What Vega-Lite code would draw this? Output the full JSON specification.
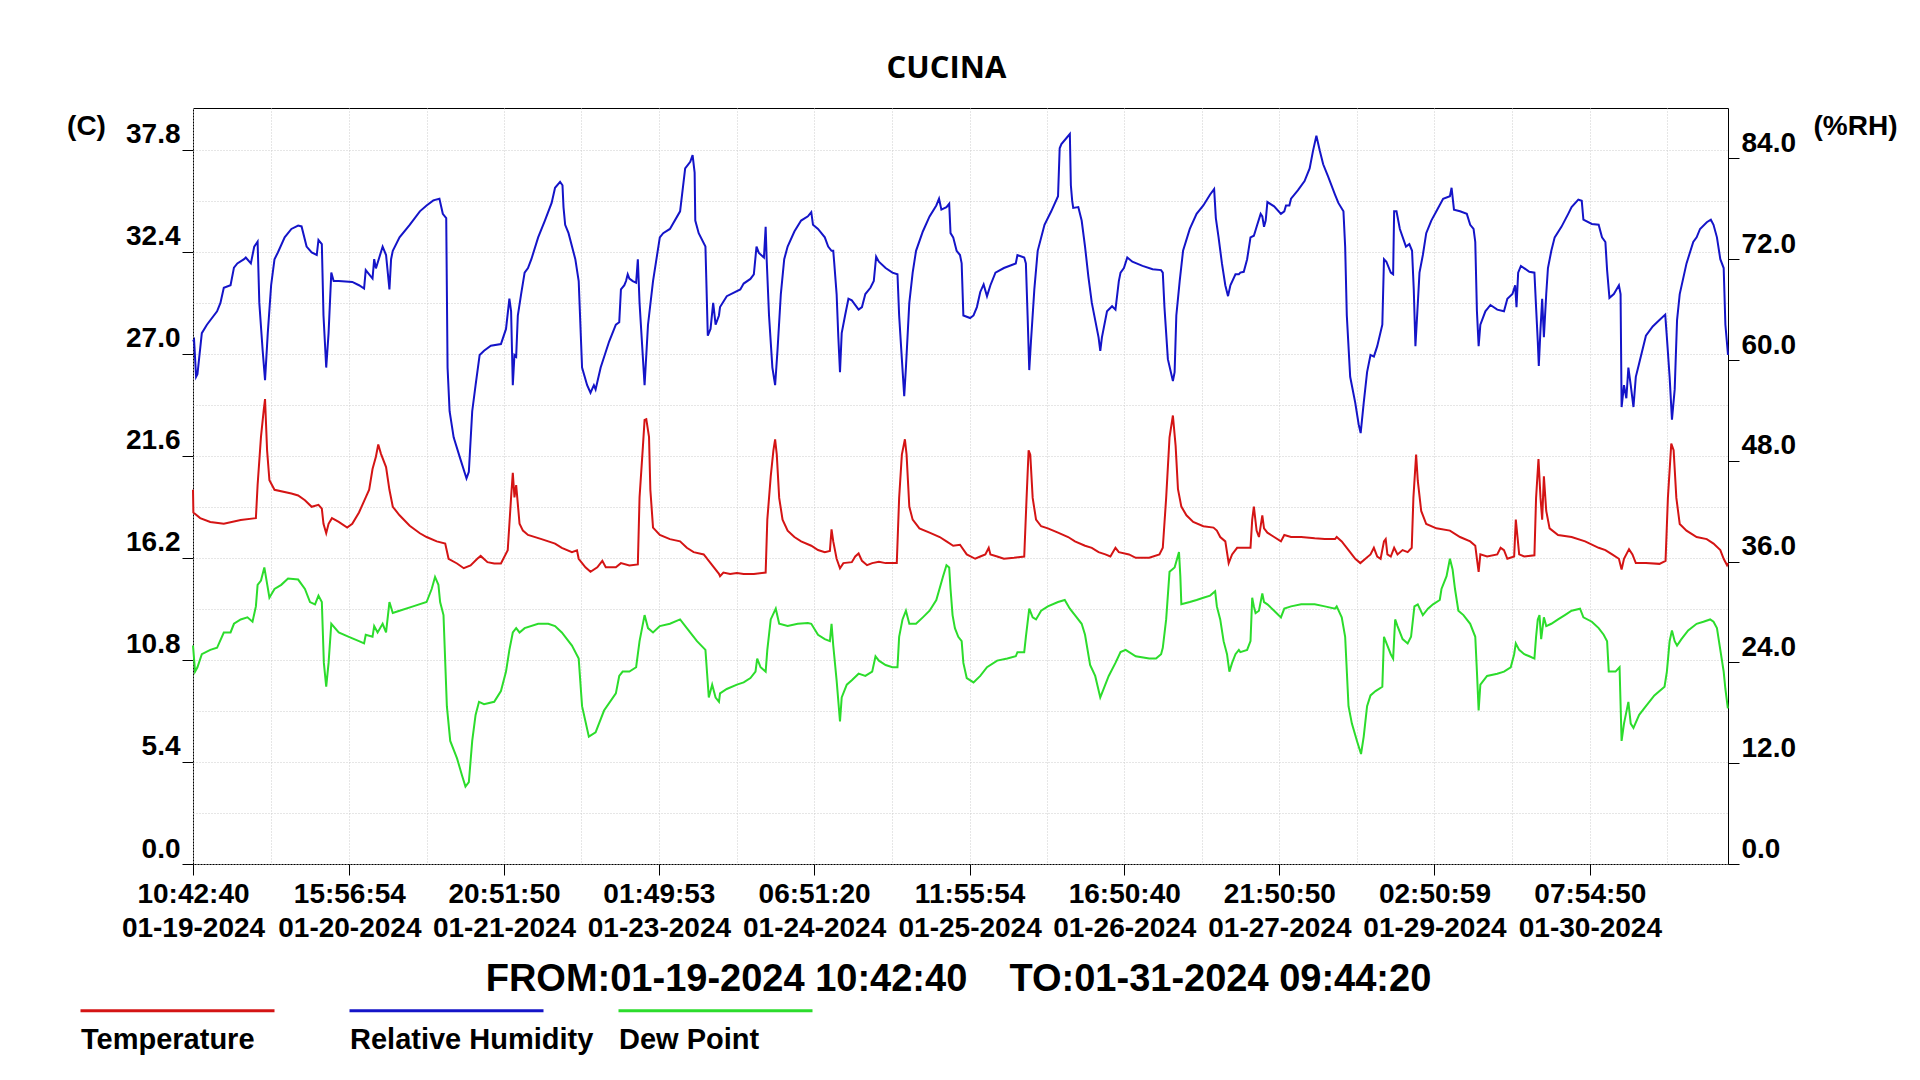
{
  "$schema": "https://vega.github.io/schema/vega-lite/v6.json",
  "width": 1535,
  "height": 756,
  "autosize": {"type": "none"},
  "padding": {"left": 193, "top": 108, "right": 192, "bottom": 216},
  "background": "white",
  "config": {
    "view": {"stroke": "black", "strokeWidth": 1},
    "axis": {
      "labelFont": "Liberation Sans", "labelFontSize": 28, "labelFontWeight": "bold", "labelColor": "#000",
      "titleFont": "Liberation Sans", "titleFontSize": 28, "titleFontWeight": "bold", "titleColor": "#000",
      "tickColor": "#000", "tickSize": 11, "tickWidth": 1, "domain": false, "grid": false,
      "gridColor": "#cdcdcd", "gridDash": [1, 2], "gridWidth": 1, "labelFlush": false, "labelOverlap": false
    }
  },
  "title": {
    "text": "CUCINA", "font": "Open Sans", "fontSize": 31, "fontWeight": "bold", "color": "#000",
    "anchor": "middle", "frame": "group", "dx": -14, "offset": -1, "baseline": "alphabetic"
  },
  "datasets": {
    "temp": [
      {"h":0,"v":19.8},{"h":0.07,"v":18.6},{"h":1.34,"v":18.3},{"h":3.23,"v":18.1},{"h":5.76,"v":18.0},{"h":8.92,"v":18.2},{"h":11.76,"v":18.3},{"h":12.08,"v":20.05},{"h":12.71,"v":22.6},{"h":13.22,"v":24.0},{"h":13.47,"v":24.6},{"h":13.85,"v":21.9},{"h":14.29,"v":20.3},{"h":15.24,"v":19.8},{"h":18.4,"v":19.6},{"h":19.66,"v":19.5},{"h":20.93,"v":19.25},{"h":22.19,"v":18.9},{"h":23.46,"v":19.0},{"h":24.09,"v":18.8},{"h":24.4,"v":18.0},{"h":24.91,"v":17.5},{"h":25.35,"v":18.0},{"h":25.98,"v":18.3},{"h":27.25,"v":18.1},{"h":28.83,"v":17.8},{"h":29.78,"v":18.0},{"h":31.04,"v":18.6},{"h":32.3,"v":19.4},{"h":32.94,"v":19.8},{"h":33.57,"v":20.9},{"h":34.2,"v":21.55},{"h":34.64,"v":22.2},{"h":35.15,"v":21.7},{"h":36.1,"v":21.0},{"h":36.73,"v":19.8},{"h":37.36,"v":18.9},{"h":38.62,"v":18.45},{"h":40.52,"v":17.9},{"h":42.42,"v":17.5},{"h":43.68,"v":17.3},{"h":45.58,"v":17.07},{"h":47.16,"v":16.95},{"h":47.79,"v":16.15},{"h":49.37,"v":15.9},{"h":50.63,"v":15.65},{"h":51.9,"v":15.8},{"h":53.16,"v":16.15},{"h":53.79,"v":16.3},{"h":55.06,"v":15.97},{"h":56.32,"v":15.9},{"h":57.58,"v":15.9},{"h":58.85,"v":16.6},{"h":59.48,"v":19.4},{"h":59.8,"v":20.7},{"h":60.11,"v":19.4},{"h":60.43,"v":20.05},{"h":61.06,"v":18.0},{"h":61.69,"v":17.64},{"h":62.64,"v":17.41},{"h":65.17,"v":17.19},{"h":67.7,"v":16.95},{"h":68.96,"v":16.73},{"h":70.86,"v":16.5},{"h":71.8,"v":16.6},{"h":72.12,"v":16.15},{"h":73.38,"v":15.7},{"h":74.33,"v":15.46},{"h":75.6,"v":15.7},{"h":76.54,"v":16.04},{"h":77.18,"v":15.7},{"h":79.07,"v":15.7},{"h":80.02,"v":15.92},{"h":81.6,"v":15.8},{"h":83.18,"v":15.85},{"h":83.5,"v":19.4},{"h":84.13,"v":22.1},{"h":84.44,"v":23.5},{"h":84.76,"v":23.54},{"h":85.27,"v":22.6},{"h":85.52,"v":19.8},{"h":86.02,"v":17.8},{"h":87.29,"v":17.41},{"h":89.18,"v":17.19},{"h":91.08,"v":17.07},{"h":92.34,"v":16.73},{"h":93.61,"v":16.5},{"h":95.5,"v":16.38},{"h":96.45,"v":16.04},{"h":98.35,"v":15.35},
      {"h":98.55,"v":15.23},{"h":99.18,"v":15.42},{"h":100.44,"v":15.35},{"h":101.71,"v":15.39},{"h":102.97,"v":15.35},{"h":104.87,"v":15.35},{"h":107.08,"v":15.42},{"h":107.39,"v":18.22},{"h":108.03,"v":20.51},{"h":108.53,"v":21.89},{"h":108.85,"v":22.47},{"h":109.16,"v":21.66},{"h":109.61,"v":19.37},{"h":110.24,"v":18.22},{"h":111.19,"v":17.64},{"h":112.45,"v":17.3},{"h":113.71,"v":17.07},{"h":115.61,"v":16.84},{"h":116.87,"v":16.61},{"h":118.14,"v":16.5},{"h":119.09,"v":16.56},{"h":119.4,"v":17.71},{"h":119.72,"v":17.07},{"h":120.35,"v":16.15},{"h":120.98,"v":15.65},{"h":121.61,"v":15.92},{"h":123.19,"v":15.97},{"h":123.83,"v":16.27},{"h":124.46,"v":16.43},{"h":125.09,"v":16.04},{"h":126.04,"v":15.81},{"h":127.0,"v":15.92},{"h":128.25,"v":15.99},{"h":129.51,"v":15.92},{"h":130.78,"v":15.92},{"h":131.6,"v":15.92},{"h":132.04,"v":19.37},{"h":132.55,"v":21.66},{"h":133.12,"v":22.47},{"h":133.43,"v":21.66},{"h":133.94,"v":18.91},{"h":134.57,"v":18.22},{"h":135.83,"v":17.76},{"h":137.73,"v":17.53},{"h":139.63,"v":17.3},{"h":140.89,"v":17.07},{"h":142.15,"v":16.84},{"h":143.42,"v":16.89},{"h":144.68,"v":16.38},{"h":146.26,"v":16.15},{"h":147.21,"v":16.27},{"h":148.16,"v":16.38},{"h":148.79,"v":16.73},{"h":149.11,"v":16.38},{"h":150.37,"v":16.27},{"h":151.63,"v":16.15},{"h":153.53,"v":16.2},{"h":155.43,"v":16.27},{"h":155.87,"v":19.37},{"h":156.25,"v":21.89},{"h":156.56,"v":21.66},{"h":157.01,"v":19.37},{"h":157.64,"v":18.22},{"h":158.59,"v":17.87},{"h":159.85,"v":17.76},{"h":161.75,"v":17.53},{"h":163.64,"v":17.3},{"h":164.91,"v":17.07},{"h":166.8,"v":16.84},{"h":168.07,"v":16.73},{"h":169.33,"v":16.5},{"h":170.6,"v":16.38},{"h":171.54,"v":16.27},{"h":172.49,"v":16.73},{"h":173.12,"v":16.5},{"h":175.02,"v":16.38},{"h":176.28,"v":16.2},{"h":178.81,"v":16.2},{"h":180.71,"v":16.38},{"h":181.34,"v":16.73},{"h":181.97,"v":19.37},{"h":182.6,"v":22.58},{"h":183.23,"v":23.73},{"h":183.74,"v":22.12},{"h":184.18,"v":19.83},{"h":184.81,"v":18.91},{"h":185.76,"v":18.45},{"h":187.03,"v":18.1},{"h":188.92,"v":17.87},{"h":190.82,"v":17.8},{"h":191.45,"v":17.64},{"h":192.08,"v":17.3},{"h":193.03,"v":17.07},{"h":193.66,"v":15.92},{"h":194.3,"v":16.38},{"h":195.24,"v":16.73},
      {"h":196.48,"v":16.73},{"h":197.74,"v":16.73},{"h":198.06,"v":18.22},{"h":198.37,"v":18.91},{"h":198.88,"v":17.64},{"h":199.32,"v":17.3},{"h":199.95,"v":18.45},{"h":200.27,"v":17.76},{"h":200.9,"v":17.53},{"h":202.16,"v":17.3},{"h":203.43,"v":17.07},{"h":204.06,"v":17.41},{"h":205.32,"v":17.3},{"h":207.22,"v":17.3},{"h":209.75,"v":17.23},{"h":211.64,"v":17.19},{"h":213.54,"v":17.19},{"h":213.86,"v":17.3},{"h":214.8,"v":17.07},{"h":216.07,"v":16.61},{"h":217.33,"v":16.15},{"h":218.28,"v":15.92},{"h":219.23,"v":16.15},{"h":220.18,"v":16.38},{"h":220.81,"v":16.73},{"h":221.44,"v":16.27},{"h":222.07,"v":16.15},{"h":222.7,"v":17.07},{"h":223.02,"v":17.19},{"h":223.34,"v":16.38},{"h":223.97,"v":16.27},{"h":224.6,"v":16.73},{"h":225.23,"v":16.38},{"h":226.18,"v":16.61},{"h":227.13,"v":16.5},{"h":227.89,"v":16.73},{"h":228.2,"v":19.37},{"h":228.71,"v":21.66},{"h":229.02,"v":20.28},{"h":229.66,"v":18.68},{"h":230.6,"v":17.99},{"h":232.5,"v":17.76},{"h":235.03,"v":17.64},{"h":236.92,"v":17.3},{"h":238.82,"v":17.07},{"h":239.77,"v":16.84},{"h":240.08,"v":16.15},{"h":240.4,"v":15.46},{"h":240.72,"v":16.38},{"h":241.98,"v":16.27},{"h":243.88,"v":16.38},{"h":244.51,"v":16.73},{"h":245.14,"v":16.61},{"h":245.77,"v":16.15},{"h":247.04,"v":16.27},{"h":247.35,"v":18.22},{"h":247.67,"v":17.3},{"h":247.98,"v":16.38},{"h":248.93,"v":16.27},{"h":250.83,"v":16.33},{"h":251.14,"v":19.37},{"h":251.59,"v":21.43},{"h":251.97,"v":19.37},{"h":252.28,"v":18.22},{"h":252.6,"v":20.51},{"h":253.04,"v":18.68},{"h":253.67,"v":17.76},{"h":255.25,"v":17.41},{"h":257.78,"v":17.3},{"h":260.31,"v":17.07},{"h":262.84,"v":16.73},{"h":264.1,"v":16.61},{"h":265.36,"v":16.38},{"h":266.63,"v":16.15},{"h":267.13,"v":15.58},{"h":267.58,"v":16.15},{"h":268.52,"v":16.66},{"h":269.16,"v":16.38},{"h":269.79,"v":15.92},{"h":271.68,"v":15.92},{"h":274.21,"v":15.88},{"h":275.35,"v":16.04},{"h":275.79,"v":19.37},{"h":276.42,"v":22.24},{"h":276.86,"v":21.89},{"h":277.37,"v":19.37},{"h":278.0,"v":17.99},{"h":279.27,"v":17.64},{"h":281.16,"v":17.3},{"h":283.06,"v":17.19},{"h":284.32,"v":16.95},{"h":285.59,"v":16.61},{"h":286.22,"v":16.15},{"h":286.85,"v":15.81},{"h":287.03,"v":15.92}
    ],
    "rh": [
      {"h":0,"v":62.2},{"h":0.2,"v":62.4},{"h":0.58,"v":58.0},{"h":0.83,"v":58.3},{"h":1.65,"v":63.2},{"h":2.6,"v":64.2},{"h":4.5,"v":65.8},{"h":5.13,"v":66.8},{"h":5.76,"v":68.6},{"h":7.02,"v":68.9},{"h":7.66,"v":71.0},{"h":8.29,"v":71.5},{"h":9.55,"v":72.0},{"h":9.87,"v":72.2},{"h":10.82,"v":71.5},{"h":11.45,"v":73.5},{"h":12.08,"v":74.1},{"h":12.4,"v":66.8},{"h":13.03,"v":61.1},{"h":13.47,"v":57.6},{"h":13.98,"v":63.2},{"h":14.61,"v":68.9},{"h":15.24,"v":72.0},{"h":15.87,"v":72.8},{"h":17.14,"v":74.6},{"h":18.4,"v":75.6},{"h":19.66,"v":76.0},{"h":20.3,"v":75.9},{"h":21.24,"v":73.5},{"h":22.19,"v":72.8},{"h":23.14,"v":72.5},{"h":23.46,"v":74.3},{"h":24.09,"v":73.8},{"h":24.4,"v":65.3},{"h":24.91,"v":59.1},{"h":25.35,"v":63.2},{"h":25.86,"v":70.4},{"h":26.3,"v":69.4},{"h":27.25,"v":69.4},{"h":29.78,"v":69.3},{"h":31.04,"v":68.9},{"h":31.99,"v":68.5},{"h":32.3,"v":70.7},{"h":32.94,"v":70.2},{"h":33.57,"v":69.7},{"h":33.88,"v":72.0},{"h":34.2,"v":70.9},{"h":35.46,"v":73.5},{"h":36.1,"v":72.5},{"h":36.73,"v":68.4},{"h":37.04,"v":72.0},{"h":37.36,"v":73.0},{"h":38.62,"v":74.6},{"h":40.52,"v":76.1},{"h":42.42,"v":77.7},{"h":43.68,"v":78.4},{"h":44.94,"v":79.0},{"h":46.08,"v":79.2},{"h":46.71,"v":77.4},{"h":47.35,"v":76.9},{"h":47.6,"v":59.1},{"h":47.98,"v":53.9},{"h":48.74,"v":50.8},{"h":50.0,"v":48.2},{"h":51.14,"v":45.9},{"h":51.58,"v":46.7},{"h":52.21,"v":53.9},{"h":52.84,"v":57.0},{"h":53.6,"v":60.6},{"h":54.42,"v":61.1},{"h":55.69,"v":61.7},{"h":57.58,"v":61.9},{"h":58.53,"v":63.7},{"h":59.16,"v":67.3},{"h":59.48,"v":65.8},{"h":59.8,"v":57.0},{"h":60.11,"v":60.6},{"h":60.43,"v":60.4},{"h":60.74,"v":65.3},{"h":61.37,"v":67.9},{"h":62.01,"v":70.4},{"h":62.64,"v":70.95},{"h":63.27,"v":72.0},{"h":64.54,"v":74.6},{"h":65.8,"v":76.6},{"h":67.06,"v":78.7},{"h":67.7,"v":80.5},{"h":68.64,"v":81.2},{"h":69.09,"v":80.8},{"h":69.28,"v":78.2},{"h":69.59,"v":76.1},{"h":70.22,"v":75.1},{"h":71.49,"v":72.0},{"h":72.12,"v":69.4},{"h":72.75,"v":59.1},{"h":73.7,"v":57.0},{"h":74.33,"v":56.1},{"h":74.96,"v":57.0},{"h":75.28,"v":56.5},{"h":76.23,"v":59.1},{"h":77.81,"v":62.2},{"h":79.07,"v":64.2},{"h":79.7,"v":64.5},{"h":80.02,"v":68.4},{"h":80.66,"v":68.9},{"h":80.97,"v":69.4},{"h":81.29,"v":70.2},{"h":81.6,"v":69.7},{"h":82.23,"v":69.4},{"h":82.86,"v":69.2},{"h":83.18,"v":72.0},{"h":83.5,"v":66.8},{"h":84.44,"v":57.0},{"h":85.08,"v":64.2},{"h":86.02,"v":69.4},{"h":87.29,"v":74.6},{"h":87.92,"v":75.1},{"h":89.18,"v":75.6},{"h":91.08,"v":77.7},{"h":92.03,"v":82.8},{"h":92.98,"v":83.6},{"h":93.42,"v":84.4},{"h":93.8,"v":82.3},{"h":93.92,"v":76.6},{"h":94.56,"v":75.1},{"h":95.82,"v":73.5},{"h":96.26,"v":62.9},{"h":96.77,"v":63.7},{"h":97.27,"v":66.8},{"h":97.72,"v":64.2},{"h":98.35,"v":65.3},
      {"h":98.55,"v":66.3},{"h":99.81,"v":67.6},{"h":102.34,"v":68.4},{"h":102.97,"v":69.1},{"h":104.23,"v":69.65},{"h":104.87,"v":70.2},{"h":105.37,"v":73.5},{"h":105.81,"v":72.75},{"h":106.76,"v":72.2},{"h":107.08,"v":75.85},{"h":107.27,"v":72.0},{"h":107.71,"v":65.3},{"h":108.34,"v":59.1},{"h":108.85,"v":57.0},{"h":109.29,"v":61.1},{"h":109.92,"v":67.85},{"h":110.55,"v":72.0},{"h":111.19,"v":73.5},{"h":112.45,"v":75.3},{"h":113.71,"v":76.6},{"h":114.98,"v":77.1},{"h":115.61,"v":77.6},{"h":115.93,"v":76.1},{"h":116.87,"v":75.6},{"h":118.14,"v":74.6},{"h":118.77,"v":73.5},{"h":119.4,"v":73.0},{"h":119.72,"v":73.0},{"h":119.91,"v":71.5},{"h":120.35,"v":67.85},{"h":120.67,"v":62.7},{"h":120.98,"v":58.55},{"h":121.3,"v":63.2},{"h":121.93,"v":65.3},{"h":122.56,"v":67.3},{"h":123.19,"v":67.1},{"h":124.46,"v":66.0},{"h":125.09,"v":66.3},{"h":125.72,"v":67.85},{"h":126.67,"v":68.6},{"h":127.3,"v":69.4},{"h":127.74,"v":72.3},{"h":128.25,"v":71.7},{"h":129.51,"v":70.95},{"h":130.78,"v":70.4},{"h":131.73,"v":70.2},{"h":132.04,"v":65.3},{"h":132.55,"v":60.1},{"h":132.99,"v":55.7},{"h":133.31,"v":59.1},{"h":133.94,"v":66.8},{"h":134.57,"v":70.4},{"h":135.2,"v":73.0},{"h":136.47,"v":75.3},{"h":137.73,"v":77.1},{"h":138.99,"v":78.4},{"h":139.5,"v":79.2},{"h":139.94,"v":77.9},{"h":140.89,"v":78.2},{"h":141.4,"v":78.6},{"h":141.65,"v":75.1},{"h":142.15,"v":74.6},{"h":142.79,"v":73.0},{"h":143.42,"v":72.5},{"h":143.73,"v":71.5},{"h":144.05,"v":65.3},{"h":145.31,"v":65.0},{"h":145.95,"v":65.3},{"h":146.58,"v":66.3},{"h":147.21,"v":68.1},{"h":147.84,"v":69.0},{"h":148.47,"v":67.6},{"h":149.11,"v":68.9},{"h":150.05,"v":70.4},{"h":151.63,"v":70.95},{"h":153.85,"v":71.5},{"h":154.16,"v":72.5},{"h":155.43,"v":72.2},{"h":155.74,"v":71.5},{"h":156.06,"v":65.3},{"h":156.37,"v":58.8},{"h":156.69,"v":62.2},{"h":157.32,"v":68.4},{"h":157.95,"v":73.0},{"h":159.22,"v":76.1},{"h":160.48,"v":77.7},{"h":161.75,"v":79.5},{"h":162.06,"v":85.2},{"h":162.38,"v":85.7},{"h":163.96,"v":86.9},{"h":164.15,"v":80.8},{"h":164.4,"v":78.95},{"h":164.59,"v":78.1},{"h":165.54,"v":78.2},{"h":166.17,"v":76.6},{"h":166.8,"v":73.5},{"h":167.43,"v":69.9},{"h":168.07,"v":66.8},{"h":168.7,"v":64.75},{"h":169.33,"v":62.7},{"h":169.65,"v":61.1},{"h":169.96,"v":62.7},{"h":170.91,"v":65.8},{"h":171.86,"v":66.4},{"h":172.49,"v":66.0},{"h":173.12,"v":69.4},{"h":173.44,"v":70.4},{"h":174.07,"v":70.95},{"h":174.7,"v":72.2},{"h":175.65,"v":71.7},{"h":177.55,"v":71.2},{"h":179.44,"v":70.8},{"h":181.02,"v":70.7},{"h":181.34,"v":70.4},{"h":181.65,"v":66.3},{"h":182.29,"v":60.1},{"h":183.23,"v":57.5},{"h":183.55,"v":58.55},{"h":183.87,"v":65.3},{"h":184.5,"v":69.4},{"h":185.13,"v":73.0},{"h":186.39,"v":75.6},{"h":187.66,"v":77.4},{"h":188.92,"v":78.4},{"h":190.19,"v":79.7},{"h":190.94,"v":80.35},{"h":191.26,"v":76.9},{"h":191.77,"v":74.6},{"h":192.4,"v":71.5},{"h":193.03,"v":68.9},{"h":193.54,"v":67.6},{"h":193.98,"v":68.9},{"h":194.93,"v":70.2},{"h":195.56,"v":70.2},
      {"h":195.84,"v":70.4},{"h":196.48,"v":70.5},{"h":197.11,"v":72.0},{"h":197.74,"v":74.6},{"h":198.37,"v":74.8},{"h":199.0,"v":76.1},{"h":199.64,"v":77.4},{"h":199.95,"v":77.1},{"h":200.27,"v":75.85},{"h":200.58,"v":76.6},{"h":200.9,"v":78.8},{"h":202.16,"v":78.3},{"h":203.43,"v":77.4},{"h":204.06,"v":77.7},{"h":204.38,"v":78.4},{"h":205.01,"v":78.4},{"h":205.32,"v":79.2},{"h":206.59,"v":80.2},{"h":207.85,"v":81.3},{"h":208.8,"v":82.8},{"h":209.43,"v":84.9},{"h":210.06,"v":86.7},{"h":210.7,"v":84.9},{"h":211.33,"v":83.3},{"h":212.28,"v":81.8},{"h":213.54,"v":79.7},{"h":214.17,"v":78.7},{"h":215.12,"v":77.7},{"h":215.44,"v":73.5},{"h":215.75,"v":65.3},{"h":216.38,"v":58.0},{"h":217.33,"v":54.9},{"h":217.96,"v":52.35},{"h":218.34,"v":51.3},{"h":218.91,"v":54.9},{"h":219.54,"v":58.55},{"h":220.18,"v":60.6},{"h":220.81,"v":60.4},{"h":221.44,"v":61.65},{"h":222.39,"v":64.2},{"h":222.7,"v":72.0},{"h":223.15,"v":71.7},{"h":223.97,"v":70.4},{"h":224.41,"v":70.2},{"h":224.6,"v":77.7},{"h":225.04,"v":77.7},{"h":225.67,"v":75.6},{"h":226.81,"v":73.5},{"h":227.44,"v":73.8},{"h":227.95,"v":73.0},{"h":228.27,"v":68.4},{"h":228.58,"v":61.65},{"h":228.9,"v":65.3},{"h":229.34,"v":70.4},{"h":229.97,"v":72.5},{"h":230.6,"v":75.1},{"h":231.55,"v":76.6},{"h":232.5,"v":77.7},{"h":233.76,"v":79.2},{"h":235.03,"v":79.5},{"h":235.34,"v":80.5},{"h":235.79,"v":77.9},{"h":236.92,"v":77.7},{"h":238.19,"v":77.4},{"h":238.82,"v":76.1},{"h":239.45,"v":75.6},{"h":239.77,"v":74.05},{"h":240.08,"v":65.8},{"h":240.4,"v":61.65},{"h":240.72,"v":64.2},{"h":241.66,"v":65.8},{"h":242.61,"v":66.55},{"h":243.88,"v":66.0},{"h":245.14,"v":65.8},{"h":245.77,"v":67.3},{"h":246.72,"v":67.85},{"h":247.23,"v":68.9},{"h":247.48,"v":66.3},{"h":247.79,"v":70.4},{"h":248.3,"v":71.2},{"h":249.88,"v":70.5},{"h":250.83,"v":70.4},{"h":251.14,"v":66.3},{"h":251.46,"v":62.2},{"h":251.65,"v":59.3},{"h":251.97,"v":63.7},{"h":252.28,"v":67.3},{"h":252.6,"v":62.7},{"h":253.04,"v":67.85},{"h":253.36,"v":70.95},{"h":253.99,"v":73.0},{"h":254.62,"v":74.6},{"h":255.88,"v":75.85},{"h":257.15,"v":77.4},{"h":257.78,"v":78.2},{"h":259.04,"v":79.1},{"h":259.68,"v":78.95},{"h":259.99,"v":76.7},{"h":261.57,"v":76.2},{"h":262.84,"v":76.1},{"h":263.47,"v":74.6},{"h":264.1,"v":74.05},{"h":264.42,"v":70.7},{"h":264.86,"v":67.4},{"h":265.68,"v":67.85},{"h":266.63,"v":68.9},{"h":266.94,"v":67.85},{"h":267.13,"v":54.4},{"h":267.58,"v":57.0},{"h":268.02,"v":55.45},{"h":268.4,"v":59.1},{"h":268.84,"v":57.0},{"h":269.35,"v":54.4},{"h":269.79,"v":58.0},{"h":270.42,"v":59.6},{"h":271.68,"v":62.9},{"h":272.95,"v":64.0},{"h":274.21,"v":64.75},{"h":275.29,"v":65.4},{"h":275.6,"v":62.7},{"h":276.11,"v":58.0},{"h":276.55,"v":52.9},{"h":277.06,"v":56.5},{"h":277.5,"v":64.75},{"h":278.0,"v":67.85},{"h":279.27,"v":71.5},{"h":280.53,"v":74.05},{"h":281.16,"v":74.6},{"h":281.8,"v":75.6},{"h":283.06,"v":76.4},{"h":283.82,"v":76.7},{"h":284.32,"v":76.1},{"h":284.96,"v":74.6},{"h":285.59,"v":72.0},{"h":286.22,"v":70.95},{"h":286.54,"v":64.2},{"h":287.03,"v":60.6}
    ],
    "dew": [
      {"h":0,"v":11.56},{"h":0.39,"v":10.18},{"h":0.83,"v":10.41},{"h":1.65,"v":11.1},{"h":3.23,"v":11.33},{"h":4.5,"v":11.44},{"h":5.76,"v":12.25},{"h":7.02,"v":12.25},{"h":7.66,"v":12.71},{"h":8.92,"v":12.94},{"h":10.18,"v":13.05},{"h":11.13,"v":12.82},{"h":11.76,"v":13.63},{"h":12.08,"v":14.77},{"h":12.71,"v":15.0},{"h":13.34,"v":15.69},{"h":14.29,"v":14.09},{"h":15.24,"v":14.55},{"h":16.5,"v":14.77},{"h":17.77,"v":15.11},{"h":19.66,"v":15.05},{"h":20.93,"v":14.55},{"h":21.88,"v":13.86},{"h":22.82,"v":13.74},{"h":23.46,"v":14.2},{"h":24.09,"v":13.86},{"h":24.47,"v":10.64},{"h":24.91,"v":9.38},{"h":25.35,"v":10.64},{"h":25.86,"v":12.71},{"h":27.25,"v":12.25},{"h":29.14,"v":12.02},{"h":31.04,"v":11.79},{"h":31.99,"v":11.67},{"h":32.3,"v":12.13},{"h":33.57,"v":12.02},{"h":33.88,"v":12.59},{"h":34.52,"v":12.25},{"h":35.46,"v":12.71},{"h":36.1,"v":12.25},{"h":36.73,"v":13.86},{"h":37.36,"v":13.28},{"h":38.62,"v":13.4},{"h":41.15,"v":13.63},{"h":43.68,"v":13.86},{"h":44.63,"v":14.55},{"h":45.26,"v":15.19},{"h":45.89,"v":14.77},{"h":46.21,"v":13.86},{"h":46.84,"v":13.17},{"h":47.47,"v":8.35},{"h":48.1,"v":6.51},{"h":49.37,"v":5.59},{"h":50.32,"v":4.67},{"h":50.95,"v":4.1},{"h":51.58,"v":4.33},{"h":52.21,"v":6.51},{"h":52.84,"v":7.89},{"h":53.48,"v":8.58},{"h":54.42,"v":8.46},{"h":56.32,"v":8.58},{"h":57.58,"v":9.15},{"h":58.53,"v":10.18},{"h":59.16,"v":11.33},{"h":59.8,"v":12.25},{"h":60.43,"v":12.48},{"h":61.06,"v":12.25},{"h":62.01,"v":12.48},{"h":64.54,"v":12.71},{"h":66.43,"v":12.71},{"h":67.7,"v":12.59},{"h":68.96,"v":12.25},{"h":70.86,"v":11.56},{"h":72.12,"v":10.87},{"h":72.75,"v":8.35},{"h":74.02,"v":6.74},{"h":75.28,"v":6.97},{"h":76.86,"v":8.12},{"h":79.07,"v":9.03},{"h":79.7,"v":9.95},{"h":80.34,"v":10.18},{"h":81.6,"v":10.18},{"h":82.86,"v":10.41},{"h":83.5,"v":11.79},{"h":84.44,"v":13.17},{"h":85.08,"v":12.48},{"h":86.02,"v":12.25},{"h":87.29,"v":12.59},{"h":89.18,"v":12.71},{"h":91.08,"v":12.94},{"h":92.34,"v":12.48},{"h":94.24,"v":11.79},{"h":95.82,"v":11.33},{"h":96.45,"v":8.81},{"h":97.08,"v":9.49},{"h":97.72,"v":8.81},{"h":98.35,"v":8.58},
      {"h":98.55,"v":9.03},{"h":99.81,"v":9.26},{"h":101.71,"v":9.49},{"h":102.97,"v":9.61},{"h":104.23,"v":9.84},{"h":105.18,"v":10.18},{"h":105.5,"v":10.87},{"h":106.13,"v":10.41},{"h":107.08,"v":10.18},{"h":107.39,"v":11.33},{"h":108.03,"v":12.94},{"h":108.97,"v":13.51},{"h":109.61,"v":12.71},{"h":111.19,"v":12.59},{"h":113.08,"v":12.71},{"h":114.98,"v":12.75},{"h":115.61,"v":12.71},{"h":116.87,"v":12.13},{"h":118.14,"v":11.9},{"h":119.09,"v":11.79},{"h":119.4,"v":12.71},{"h":119.72,"v":11.56},{"h":120.35,"v":9.72},{"h":120.98,"v":7.54},{"h":121.3,"v":8.81},{"h":122.25,"v":9.49},{"h":123.19,"v":9.72},{"h":124.46,"v":10.07},{"h":125.72,"v":9.95},{"h":127.0,"v":10.18},{"h":127.62,"v":10.99},{"h":128.25,"v":10.76},{"h":129.51,"v":10.53},{"h":130.78,"v":10.41},{"h":131.73,"v":10.41},{"h":132.04,"v":12.02},{"h":132.67,"v":12.94},{"h":133.31,"v":13.4},{"h":133.94,"v":12.71},{"h":135.2,"v":12.71},{"h":136.47,"v":13.05},{"h":137.73,"v":13.4},{"h":138.99,"v":13.97},{"h":140.26,"v":15.23},{"h":140.89,"v":15.81},{"h":141.4,"v":15.69},{"h":141.65,"v":14.55},{"h":142.03,"v":13.17},{"h":142.47,"v":12.48},{"h":143.1,"v":12.02},{"h":143.73,"v":11.79},{"h":144.05,"v":10.64},{"h":144.68,"v":9.84},{"h":145.95,"v":9.61},{"h":147.21,"v":9.95},{"h":148.47,"v":10.41},{"h":150.37,"v":10.76},{"h":152.27,"v":10.87},{"h":153.85,"v":10.99},{"h":154.16,"v":11.21},{"h":155.43,"v":11.21},{"h":155.74,"v":12.02},{"h":156.37,"v":13.51},{"h":157.01,"v":13.05},{"h":157.64,"v":12.94},{"h":158.59,"v":13.4},{"h":159.85,"v":13.63},{"h":161.75,"v":13.86},{"h":163.01,"v":13.97},{"h":163.96,"v":13.51},{"h":164.91,"v":13.17},{"h":166.17,"v":12.71},{"h":166.8,"v":12.13},{"h":167.75,"v":10.53},{"h":168.7,"v":9.95},{"h":169.65,"v":8.81},{"h":170.28,"v":9.26},{"h":171.23,"v":9.95},{"h":172.49,"v":10.64},{"h":173.44,"v":11.21},{"h":174.39,"v":11.33},{"h":176.28,"v":10.99},{"h":178.81,"v":10.87},{"h":180.07,"v":10.87},{"h":181.02,"v":11.1},{"h":181.34,"v":11.44},{"h":181.97,"v":12.94},{"h":182.6,"v":15.46},{"h":183.55,"v":15.69},{"h":184.37,"v":16.5},{"h":184.62,"v":15.23},{"h":184.81,"v":13.74},{"h":186.39,"v":13.86},{"h":187.66,"v":13.97},{"h":188.92,"v":14.09},{"h":190.19,"v":14.2},{"h":191.13,"v":14.43},{"h":191.45,"v":13.63},{"h":192.08,"v":12.94},{"h":192.71,"v":11.79},{"h":193.35,"v":11.1},{"h":193.79,"v":10.18},{"h":194.3,"v":10.64},{"h":194.93,"v":11.1},{"h":195.56,"v":11.33},
      {"h":195.84,"v":11.21},{"h":197.11,"v":11.33},{"h":197.74,"v":11.79},{"h":198.06,"v":14.09},{"h":198.37,"v":13.63},{"h":198.69,"v":13.28},{"h":199.32,"v":13.4},{"h":199.95,"v":14.31},{"h":200.27,"v":13.86},{"h":200.9,"v":13.74},{"h":202.16,"v":13.4},{"h":203.43,"v":13.05},{"h":204.06,"v":13.51},{"h":205.32,"v":13.63},{"h":207.22,"v":13.74},{"h":209.75,"v":13.74},{"h":211.64,"v":13.63},{"h":213.54,"v":13.51},{"h":213.86,"v":13.63},{"h":214.8,"v":13.05},{"h":215.44,"v":12.02},{"h":216.07,"v":8.35},{"h":216.7,"v":7.43},{"h":217.65,"v":6.51},{"h":218.41,"v":5.82},{"h":218.91,"v":6.74},{"h":219.54,"v":8.35},{"h":220.18,"v":8.92},{"h":221.12,"v":9.15},{"h":222.39,"v":9.38},{"h":222.7,"v":12.02},{"h":223.34,"v":11.56},{"h":223.97,"v":11.1},{"h":224.41,"v":10.87},{"h":224.79,"v":12.94},{"h":225.23,"v":12.59},{"h":226.18,"v":11.9},{"h":227.13,"v":11.67},{"h":227.76,"v":12.02},{"h":228.39,"v":13.63},{"h":229.02,"v":13.74},{"h":229.97,"v":13.17},{"h":230.92,"v":13.51},{"h":231.87,"v":13.74},{"h":233.13,"v":13.97},{"h":233.45,"v":14.55},{"h":234.4,"v":15.23},{"h":235.03,"v":16.15},{"h":235.53,"v":15.58},{"h":235.98,"v":14.55},{"h":236.61,"v":13.4},{"h":237.56,"v":13.17},{"h":238.82,"v":12.71},{"h":239.77,"v":12.02},{"h":240.08,"v":10.18},{"h":240.4,"v":8.12},{"h":240.72,"v":9.49},{"h":241.98,"v":9.95},{"h":243.88,"v":10.07},{"h":245.14,"v":10.18},{"h":246.4,"v":10.41},{"h":247.04,"v":11.1},{"h":247.35,"v":11.67},{"h":247.98,"v":11.33},{"h":248.93,"v":11.1},{"h":249.88,"v":10.99},{"h":250.83,"v":10.87},{"h":251.14,"v":12.02},{"h":251.46,"v":12.94},{"h":251.78,"v":13.17},{"h":252.09,"v":11.9},{"h":252.6,"v":13.05},{"h":253.04,"v":12.59},{"h":253.99,"v":12.71},{"h":255.25,"v":12.94},{"h":256.52,"v":13.17},{"h":257.78,"v":13.4},{"h":259.36,"v":13.51},{"h":259.99,"v":13.05},{"h":261.57,"v":12.82},{"h":262.84,"v":12.48},{"h":263.78,"v":12.13},{"h":264.42,"v":11.79},{"h":264.73,"v":10.18},{"h":266.0,"v":10.18},{"h":266.75,"v":10.41},{"h":267.13,"v":6.51},{"h":267.58,"v":7.43},{"h":268.4,"v":8.58},{"h":268.84,"v":7.43},{"h":269.35,"v":7.2},{"h":270.42,"v":7.89},{"h":271.68,"v":8.35},{"h":273.26,"v":8.92},{"h":275.16,"v":9.38},{"h":275.6,"v":10.18},{"h":276.11,"v":11.79},{"h":276.55,"v":12.36},{"h":277.06,"v":11.79},{"h":277.5,"v":11.56},{"h":278.32,"v":11.9},{"h":279.58,"v":12.36},{"h":281.16,"v":12.71},{"h":282.43,"v":12.82},{"h":283.69,"v":12.94},{"h":284.32,"v":12.82},{"h":284.96,"v":12.48},{"h":285.59,"v":11.33},{"h":286.22,"v":10.18},{"h":286.54,"v":9.26},{"h":287.0,"v":8.23}
    ]
  },
  "layer": [
    {
      "data": {"name": "dew"},
      "mark": {"type": "line", "strokeWidth": 2},
      "encoding": {
        "x": {
          "field": "h", "type": "quantitative",
          "scale": {"domain": [0, 287.0278], "nice": false, "zero": false},
          "axis": {
            "orient": "bottom", "grid": true, "labels": false, "ticks": false, "title": null,
            "values": [0, 14.6186, 29.23723, 43.695, 58.15279, 72.6366, 87.12028, 101.6324, 116.14445, 130.6825, 145.22056, 159.677, 174.13334, 188.6347, 203.13612, 217.6374, 232.13862, 246.6707, 261.20278, 275.7]
          }
        },
        "y": {
          "field": "v", "type": "quantitative",
          "scale": {"domain": [0, 40], "nice": false},
          "axis": {
            "orient": "left", "grid": true, "labels": false, "ticks": false, "title": null,
            "values": [0, 2.7, 5.4, 8.1, 10.8, 13.5, 16.2, 18.9, 21.6, 24.3, 27, 29.7, 32.4, 35.1, 37.8]
          }
        },
        "color": {"datum": "Dew Point", "type": "nominal"}
      }
    },
    {
      "data": {"name": "temp"},
      "mark": {"type": "line", "strokeWidth": 2},
      "encoding": {
        "x": {
          "field": "h", "type": "quantitative",
          "axis": {
            "orient": "bottom",
            "values": [0, 29.23723, 58.15279, 87.12028, 116.14445, 145.22056, 174.13334, 203.13612, 232.13862, 261.20278],
            "labelExpr": "[timeFormat(time(datetime(2024,0,19,10,42,40)) + datum.value*3600000, '%H:%M:%S'), timeFormat(time(datetime(2024,0,19,10,42,40)) + datum.value*3600000, '%m-%d-%Y')]",
            "labelAlign": "center", "labelBaseline": "top", "labelPadding": 5, "labelLineHeight": 34,
            "title": "FROM:01-19-2024 10:42:40\u00a0\u00a0\u00a0\u00a0TO:01-31-2024 09:44:20",
            "titleFontSize": 38, "titleX": 765, "titleY": 126, "titleAlign": "center", "titleBaseline": "alphabetic", "titleAngle": 0
          }
        },
        "y": {
          "field": "v", "type": "quantitative",
          "scale": {"domain": [0, 40], "nice": false},
          "axis": {
            "orient": "left", "values": [0, 5.4, 10.8, 16.2, 21.6, 27, 32.4, 37.8], "format": ".1f",
            "labelPadding": 2, "labelBaseline": "alphabetic", "labelOffset": -7,
            "title": "(C)", "titleAngle": 0, "titleX": -107, "titleY": 18, "titleAlign": "center", "titleBaseline": "middle"
          }
        },
        "color": {
          "datum": "Temperature", "type": "nominal",
          "scale": {"domain": ["Temperature", "Relative Humidity", "Dew Point"], "range": ["#d41414", "#1414c8", "#2cdc2c"]},
          "legend": {
            "orient": "none", "legendX": -114, "legendY": 819, "direction": "horizontal", "columns": 3,
            "gridAlign": "all", "columnPadding": 18, "title": null, "padding": 0,
            "symbolType": "M-1,-0.155H1", "symbolSize": 37636, "symbolStrokeWidth": 3,
            "labelFont": "Liberation Sans", "labelFontSize": 29, "labelFontWeight": "bold", "labelColor": "#000",
            "labelBaseline": "top", "labelOffset": -195, "labelLimit": 400
          }
        }
      }
    },
    {
      "data": {"name": "rh"},
      "mark": {"type": "line", "strokeWidth": 2},
      "encoding": {
        "x": {"field": "h", "type": "quantitative", "axis": null},
        "y": {
          "field": "v", "type": "quantitative",
          "scale": {"domain": [0, 90], "nice": false},
          "axis": {
            "orient": "right", "values": [0, 12, 24, 36, 48, 60, 72, 84], "format": ".1f",
            "labelPadding": 2, "labelBaseline": "alphabetic", "labelOffset": -7,
            "title": "(%RH)", "titleAngle": 0, "titleX": 127, "titleY": 18, "titleAlign": "center", "titleBaseline": "middle"
          }
        },
        "color": {"datum": "Relative Humidity", "type": "nominal"}
      }
    }
  ],
  "resolve": {"scale": {"y": "independent"}, "axis": {"x": "independent", "y": "independent"}}
}
